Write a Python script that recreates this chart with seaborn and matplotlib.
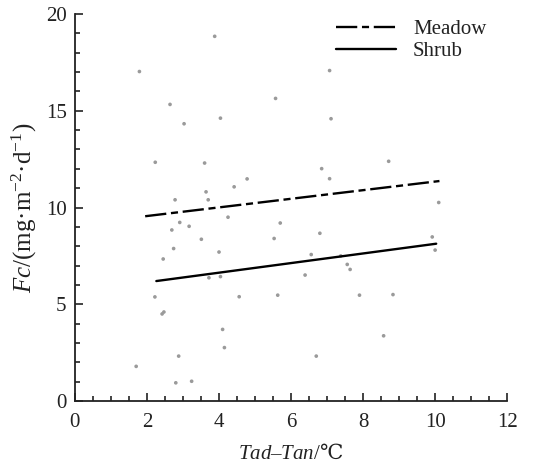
import numpy as np
import pandas as pd
import matplotlib
matplotlib.use("Agg")
import matplotlib.pyplot as plt
from matplotlib.ticker import MultipleLocator
import seaborn as sns

# Observed daily CO2 flux against air temperature difference
temp_diff = [3.88, 1.79, 2.64, 5.57, 3.03, 4.04, 2.23, 3.60, 4.78, 4.42, 3.64, 2.78, 3.70,
             7.07, 7.11, 6.85, 7.07, 8.71, 10.10,
             4.25, 2.91, 3.17, 2.69, 3.51, 2.74, 4.00, 2.45, 3.72, 4.04, 2.22, 4.56,
             2.42, 2.47, 4.10, 4.15, 2.88, 1.70, 2.80, 3.24,
             5.70, 5.53, 6.80, 6.56, 7.38, 7.56, 7.64, 6.39, 5.63, 7.90, 8.83, 8.57,
             6.70, 9.92, 10.00]
flux = [18.85, 17.03, 15.33, 15.64, 14.33, 14.62, 12.34, 12.30, 11.48, 11.07, 10.81, 10.40, 10.40,
        17.08, 14.59, 12.01, 11.49, 12.39, 10.26,
        9.50, 9.23, 9.03, 8.84, 8.36, 7.88, 7.70, 7.34, 6.37, 6.43, 5.38, 5.39,
        4.50, 4.60, 3.70, 2.76, 2.32, 1.79, 0.94, 1.02,
        9.20, 8.40, 8.67, 7.57, 7.50, 7.06, 6.80, 6.51, 5.47, 5.47, 5.50, 3.37,
        2.32, 8.48, 7.80]

# Fitted trend lines for the two vegetation types (end points)
meadow_x = [1.95, 10.12]
meadow_y = [9.55, 11.37]
shrub_x = [2.26, 10.03]
shrub_y = [6.20, 8.13]

sns.set_style("ticks")
plt.rcParams["font.family"] = ["Liberation Serif", "DejaVu Serif"]
plt.rcParams["mathtext.fontset"] = "custom"
plt.rcParams["mathtext.rm"] = "Liberation Serif"
plt.rcParams["mathtext.it"] = "Liberation Serif:italic"
# the degree-Celsius sign is only available in DejaVu
plt.rcParams["mathtext.sf"] = "DejaVu Serif"

fig = plt.figure(figsize=(5.43, 4.69), dpi=100)
ax = fig.add_axes([0.138, 0.145, 0.796, 0.825])

points = pd.DataFrame({"x": temp_diff, "y": flux})
sns.scatterplot(data=points, x="x", y="y", ax=ax, s=7, color="#9a9a9a",
                edgecolor="none", legend=False, zorder=2)

lines = pd.DataFrame({
    "x": meadow_x + shrub_x,
    "y": meadow_y + shrub_y,
    "type": ["Meadow"] * len(meadow_x) + ["Shrub"] * len(shrub_x),
})
sns.lineplot(data=lines, x="x", y="y", style="type", style_order=["Meadow", "Shrub"],
             dashes={"Meadow": (9, 2, 3, 2), "Shrub": ""}, color="black",
             linewidth=1.7, ax=ax, zorder=3)

ax.set_xlim(0, 12)
ax.set_ylim(0, 20)
ax.xaxis.set_major_locator(MultipleLocator(2))
ax.xaxis.set_minor_locator(MultipleLocator(0.5))
ax.yaxis.set_major_locator(MultipleLocator(5))
ax.yaxis.set_minor_locator(MultipleLocator(1))
ax.tick_params(which="both", direction="in", width=1.2, labelsize=15, colors="#222222")
ax.tick_params(which="major", length=6)
ax.tick_params(axis="x", which="major", pad=9)
ax.tick_params(axis="y", which="major", pad=6)
ax.tick_params(which="minor", length=3.5)
for side in ("left", "bottom"):
    ax.spines[side].set_linewidth(1.3)
    ax.spines[side].set_color("#222222")
sns.despine(ax=ax)

ax.set_xlabel(r"$\mathit{Tad}$–$\mathit{Tan}$/$\mathsf{℃}$", fontsize=15, labelpad=9,
              color="#222222")
ax.set_ylabel(r"$\mathit{Fc}$/(mg·m$^{-2}$·d$^{-1}$)", fontsize=18, labelpad=5,
              color="#222222")

leg = ax.legend(loc="upper right", bbox_to_anchor=(0.995, 1.035), frameon=False,
                fontsize=15, handlelength=2.9, handletextpad=0.8, labelspacing=0.12,
                title=None)
for t in leg.get_texts():
    t.set_color("#222222")

fig.savefig("out.png", dpi=100, facecolor="white")
